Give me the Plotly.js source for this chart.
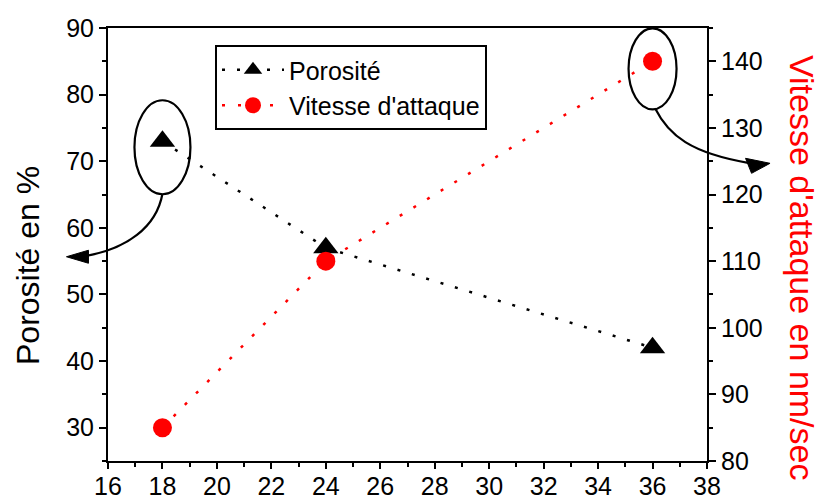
<!DOCTYPE html>
<html>
<head>
<meta charset="utf-8">
<script src="https://cdn.plot.ly/plotly-3.0.1.min.js"></script>
<style>
  html, body { margin: 0; padding: 0; background: #fff; }
  #chart { width: 816px; height: 497px; }
</style>
</head>
<body>
<div id="chart"></div>
<script>
// Etching time (x) against porosity and etch rate
const temps = [18, 24, 36];
const porosite = [73, 57, 42];
const vitesse = [85, 110, 140];
const seriesNames = ['Porosité', "Vitesse d'attaque"];
const yTitle = 'Porosité en %';
const y2Title = "Vitesse d'attaque en nm/sec";

const xRange = [16, 38];
const yRange = [25, 90];
const y2Range = [80, 145];

const W = 816, H = 497;
const margin = { l: 108, r: 109, t: 28, b: 36, pad: 0 };
const plotW = W - margin.l - margin.r;
const plotH = H - margin.t - margin.b;
const FONT = '"Liberation Sans", Arial, Helvetica, sans-serif';

// data value + pixel offset (screen, y down) -> paper coordinates
function toPaper(xv, yv, range, dx, dy) {
  const xp = (xv - xRange[0]) / (xRange[1] - xRange[0]) + dx / plotW;
  const yp = (yv - range[0]) / (range[1] - range[0]) - dy / plotH;
  return xp.toFixed(5) + ',' + yp.toFixed(5);
}
function pathFrom(xv, yv, range, cmds) {
  return cmds.map(c => c[0] + ' ' + c.slice(1).map(p => toPaper(xv, yv, range, p[0], p[1])).join(' ')).join(' ');
}

const traces = [
  {
    x: temps, y: porosite, name: seriesNames[0], type: 'scatter', mode: 'lines+markers',
    line: { color: '#000', width: 2.5, dash: '3px,12px' },
    marker: { symbol: 'triangle-up', size: 22, color: '#000' },
    yaxis: 'y'
  },
  {
    x: temps, y: vitesse, name: seriesNames[1], type: 'scatter', mode: 'lines+markers',
    line: { color: '#ff0000', width: 2.5, dash: '3px,13px' },
    marker: { symbol: 'circle', size: 19, color: '#ff0000' },
    yaxis: 'y2'
  }
];

// ellipses circling the first porosity point and the last etch-rate point
const ellipseLeft = {
  type: 'circle', xref: 'x', yref: 'y', xsizemode: 'pixel', ysizemode: 'pixel',
  xanchor: temps[0], yanchor: porosite[0],
  x0: -28, x1: 28, y0: -53, y1: 41,
  line: { color: '#000', width: 2.2 }
};
const ellipseRight = {
  type: 'circle', xref: 'x', yref: 'y2', xsizemode: 'pixel', ysizemode: 'pixel',
  xanchor: temps[2], yanchor: vitesse[2],
  x0: -24, x1: 24, y0: -48, y1: 33,
  line: { color: '#000', width: 2.2 }
};

// curved arrows pointing each series to its own axis
const arrowLeftCurve = {
  type: 'path', xref: 'paper', yref: 'paper',
  path: pathFrom(temps[0], porosite[0], yRange, [
    ['M', [0, 52.5]],
    ['C', [-6, 86], [-36, 108], [-78, 115]]
  ]),
  line: { color: '#000', width: 2.2 }
};
const arrowLeftHead = {
  type: 'path', xref: 'paper', yref: 'paper',
  path: pathFrom(temps[0], porosite[0], yRange, [
    ['M', [-96, 115.5]], ['L', [-74, 109]], ['L', [-74, 122]]
  ]) + ' Z',
  fillcolor: '#000', line: { color: '#000', width: 1 }
};
const arrowRightCurve = {
  type: 'path', xref: 'paper', yref: 'paper',
  path: pathFrom(temps[2], vitesse[2], y2Range, [
    ['M', [2.5, 47]],
    ['C', [16, 74], [38, 92], [98, 102]]
  ]),
  line: { color: '#000', width: 2.2 }
};
const arrowRightHead = {
  type: 'path', xref: 'paper', yref: 'paper',
  path: pathFrom(temps[2], vitesse[2], y2Range, [
    ['M', [117.5, 102]], ['L', [93, 97]], ['L', [99, 112]]
  ]) + ' Z',
  fillcolor: '#000', line: { color: '#000', width: 1 }
};

const axisCommon = {
  showgrid: false, zeroline: false,
  showline: true, linecolor: '#000', linewidth: 2,
  ticks: 'outside', ticklen: 7, tickwidth: 2, tickcolor: '#000',
  tickfont: { family: FONT, size: 25, color: '#000' },
  minor: { ticks: 'outside', ticklen: 4, tickwidth: 2, tickcolor: '#000' }
};

const layout = {
  width: W, height: H, margin: margin,
  paper_bgcolor: '#fff', plot_bgcolor: '#fff',
  font: { family: FONT, color: '#000' },
  showlegend: true,
  legend: {
    x: 107 / plotW, y: 1 - 17 / plotH, xanchor: 'left', yanchor: 'top',
    bgcolor: '#fff', bordercolor: '#000', borderwidth: 2,
    font: { family: FONT, size: 25, color: '#000' },
    itemwidth: 62, tracegroupgap: 0
  },
  xaxis: Object.assign({}, axisCommon, {
    range: xRange, dtick: 2, tick0: 0, mirror: true, ticklen: 6,
    ticklabelstandoff: -4,
    minor: Object.assign({}, axisCommon.minor, { dtick: 1 })
  }),
  yaxis: Object.assign({}, axisCommon, {
    range: yRange, dtick: 10, tick0: 0,
    minor: Object.assign({}, axisCommon.minor, { dtick: 5 })
  }),
  yaxis2: Object.assign({}, axisCommon, {
    range: y2Range, dtick: 10, tick0: 0,
    overlaying: 'y', side: 'right',
    minor: Object.assign({}, axisCommon.minor, { dtick: 5 })
  }),
  shapes: [ellipseLeft, ellipseRight, arrowLeftCurve, arrowLeftHead, arrowRightCurve, arrowRightHead],
  annotations: [
    {
      text: yTitle, xref: 'paper', yref: 'paper',
      x: (28 - margin.l) / plotW, y: (H - margin.b - 266) / plotH,
      xanchor: 'center', yanchor: 'middle', textangle: -90, showarrow: false,
      font: { family: FONT, size: 32, color: '#000' }
    },
    {
      text: y2Title, xref: 'paper', yref: 'paper',
      x: (802 - margin.l) / plotW, y: (H - margin.b - 267) / plotH,
      xanchor: 'center', yanchor: 'middle', textangle: 90, showarrow: false,
      font: { family: FONT, size: 34, color: '#ff0000' }
    }
  ]
};

Plotly.newPlot('chart', traces, layout, { displayModeBar: false, staticPlot: true });
</script>
</body>
</html>
